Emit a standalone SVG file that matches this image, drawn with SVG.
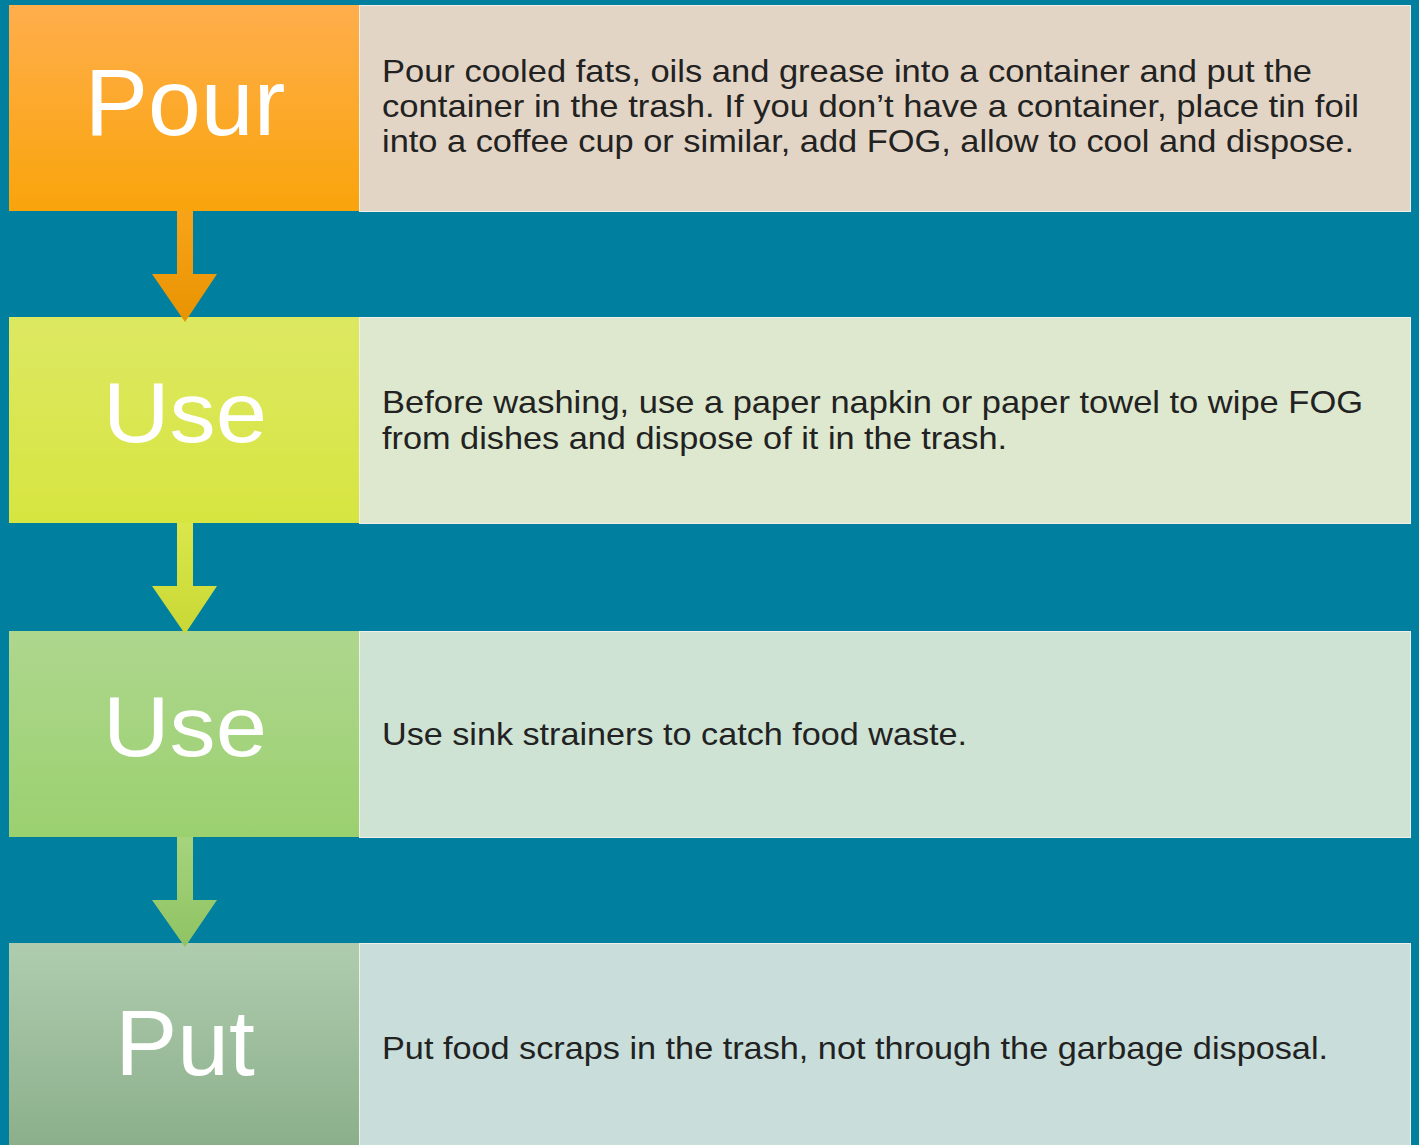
<svg xmlns="http://www.w3.org/2000/svg" width="1419" height="1145" viewBox="0 0 1419 1145">
<defs>
<linearGradient id="g1" x1="0" y1="0" x2="0" y2="1"><stop offset="0" stop-color="#FFAE4C"/><stop offset="1" stop-color="#F9A40B"/></linearGradient>
<linearGradient id="g2" x1="0" y1="0" x2="0" y2="1"><stop offset="0" stop-color="#DDE862"/><stop offset="1" stop-color="#D7E540"/></linearGradient>
<linearGradient id="g3" x1="0" y1="0" x2="0" y2="1"><stop offset="0" stop-color="#AED78E"/><stop offset="1" stop-color="#9BD06F"/></linearGradient>
<linearGradient id="g4" x1="0" y1="0" x2="0" y2="1"><stop offset="0" stop-color="#AFCCAF"/><stop offset="1" stop-color="#8BAF8A"/></linearGradient>
<linearGradient id="a1" x1="0" y1="0" x2="0" y2="1"><stop offset="0" stop-color="#F8A41A"/><stop offset="1" stop-color="#E89300"/></linearGradient>
<linearGradient id="a2" x1="0" y1="0" x2="0" y2="1"><stop offset="0" stop-color="#DAE64A"/><stop offset="1" stop-color="#C9D835"/></linearGradient>
<linearGradient id="a3" x1="0" y1="0" x2="0" y2="1"><stop offset="0" stop-color="#A5D47C"/><stop offset="1" stop-color="#8FC363"/></linearGradient>
</defs>
<style>
.lbl{font-family:"Liberation Sans",Arial,sans-serif;fill:#FFFFFF;text-anchor:middle}
.txt{font-family:"Liberation Sans",Arial,sans-serif;font-size:32px;fill:#222222}
.rb{stroke:#F2EEE8;stroke-width:1}
</style>
<rect width="1419" height="1145" fill="#017F9F"/>
<g id="node-pour">
<rect x="9" y="5" width="350" height="206" fill="url(#g1)"/>
<text class="lbl" x="185" y="135" font-size="95">Pour</text>
</g>
<g id="text-pour">
<rect class="rb" x="359.5" y="5.5" width="1051" height="206" fill="#E3D5C5"/>
<text class="txt" x="382" y="82" textLength="930" lengthAdjust="spacingAndGlyphs">Pour cooled fats, oils and grease into a container and put the</text>
<text class="txt" x="382" y="117" textLength="977" lengthAdjust="spacingAndGlyphs">container in the trash. If you don’t have a container, place tin foil</text>
<text class="txt" x="382" y="152" textLength="972" lengthAdjust="spacingAndGlyphs">into a coffee cup or similar, add FOG, allow to cool and dispose.</text>
</g>
<g id="node-use1">
<rect x="9" y="317" width="350" height="206" fill="url(#g2)"/>
<text class="lbl" x="185" y="442" font-size="86" textLength="164" lengthAdjust="spacingAndGlyphs">Use</text>
</g>
<g id="text-use1">
<rect class="rb" x="359.5" y="317.5" width="1051" height="206" fill="#DDE8CE"/>
<text class="txt" x="382" y="413" textLength="981" lengthAdjust="spacingAndGlyphs">Before washing, use a paper napkin or paper towel to wipe FOG</text>
<text class="txt" x="382" y="449" textLength="625" lengthAdjust="spacingAndGlyphs">from dishes and dispose of it in the trash.</text>
</g>
<g id="node-use2">
<rect x="9" y="631" width="350" height="206" fill="url(#g3)"/>
<text class="lbl" x="185" y="756" font-size="86" textLength="164" lengthAdjust="spacingAndGlyphs">Use</text>
</g>
<g id="text-use2">
<rect class="rb" x="359.5" y="631.5" width="1051" height="206" fill="#CEE3D4"/>
<text class="txt" x="382" y="745" textLength="585" lengthAdjust="spacingAndGlyphs">Use sink strainers to catch food waste.</text>
</g>
<g id="node-put">
<rect x="9" y="943" width="350" height="206" fill="url(#g4)"/>
<text class="lbl" x="185" y="1075" font-size="93">Put</text>
</g>
<g id="text-put">
<rect class="rb" x="359.5" y="943.5" width="1051" height="206" fill="#C9DEDA"/>
<text class="txt" x="382" y="1059" textLength="946" lengthAdjust="spacingAndGlyphs">Put food scraps in the trash, not through the garbage disposal.</text>
</g>
<g id="connectors">
<path d="M177 211 H193 V274 H217 L185 322 L152 274 H177 Z" fill="url(#a1)"/>
<path d="M177 523 H193 V586 H217 L185 634 L152 586 H177 Z" fill="url(#a2)"/>
<path d="M177 837 H193 V900 H217 L185 947 L152 900 H177 Z" fill="url(#a3)"/>
</g>
</svg>
